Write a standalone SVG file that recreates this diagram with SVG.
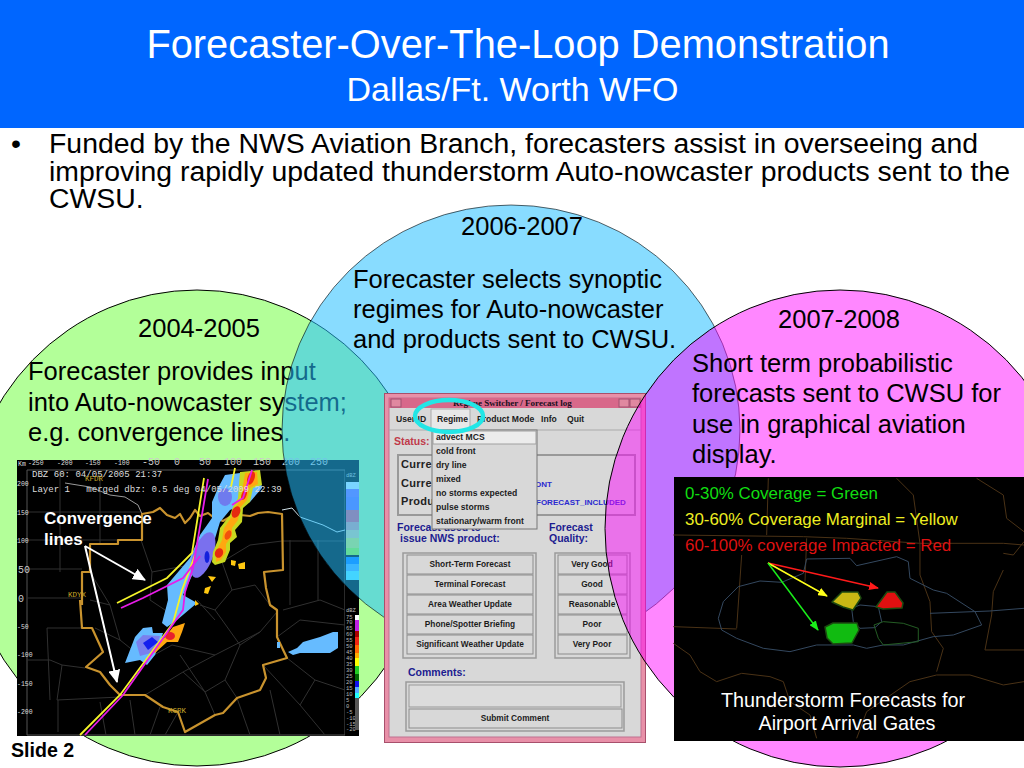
<svg xmlns="http://www.w3.org/2000/svg" width="1024" height="768" viewBox="0 0 1024 768">
<style>
text{font-family:"Liberation Sans",Arial,sans-serif}
.t24{font-size:25.500px;fill:#000}
.bul{font-size:28.400px;fill:#000}
.mono{font-family:"Liberation Mono",monospace;white-space:pre}
.ax{font-size:6.500px;fill:#ddd}
.ax2{font-size:10px;fill:#ccc}
.cty{fill:none;stroke:#303030;stroke-width:1}
.brd{fill:none;stroke:#c9932e;stroke-width:2.200;stroke-linejoin:round}
.yl{fill:none;stroke:#f4f42a;stroke-width:1.800}
.mg{fill:none;stroke:#e81ce8;stroke-width:1.800}
.wt{fill:none;stroke:#fff;stroke-width:2;marker-end:url(#wh)}
.wb{font-size:8.300px;font-weight:bold;fill:#1c1c1c;text-anchor:middle}
.it{font-size:8.600px;font-weight:bold;fill:#1c1c1c}
.bl{font-size:10.500px;font-weight:bold;fill:#1c1c90}
.cu{font-size:11px;font-weight:bold;fill:#222}
.btn{fill:#d8d8d8;stroke:#8c8c8c;stroke-width:1}
.frm{fill:#d8d8d8;stroke:#9a9a9a;stroke-width:1.500}
.st{fill:none;stroke:#4a3216;stroke-width:3}
.gt{fill:none;stroke:#34485f;stroke-width:3}
.gg{fill:none;stroke:#245c24;stroke-width:3}
.lg{font-size:16.900px}
.wh19{font-size:19.800px;fill:#fff;text-anchor:middle}
.blob{stroke:#1c4a10;stroke-width:1.500;stroke-linejoin:round}
</style>
<defs>
<marker id="wh" markerUnits="userSpaceOnUse" markerWidth="14" markerHeight="12" refX="12" refY="6" orient="auto"><path d="M0 0L13 6L0 12Z" fill="#fff"/></marker>
<marker id="rd" markerUnits="userSpaceOnUse" markerWidth="10" markerHeight="8" refX="9" refY="4" orient="auto"><path d="M0 0L10 4L0 8Z" fill="#ff1a1a"/></marker>
<marker id="ye" markerUnits="userSpaceOnUse" markerWidth="10" markerHeight="8" refX="9" refY="4" orient="auto"><path d="M0 0L10 4L0 8Z" fill="#ffff1a"/></marker>
<marker id="gr" markerUnits="userSpaceOnUse" markerWidth="10" markerHeight="8" refX="9" refY="4" orient="auto"><path d="M0 0L10 4L0 8Z" fill="#1aee1a"/></marker>
</defs>
<rect width="1024" height="768" fill="#fff"/>
<g id="header">
<rect width="1024" height="128" fill="#0066ff"/>
<text x="518" y="58" font-size="39.800" fill="#fff" text-anchor="middle">Forecaster-Over-The-Loop Demonstration</text>
<text x="512.500" y="101" font-size="34" fill="#fff" text-anchor="middle">Dallas/Ft. Worth WFO</text>
</g>
<g id="bullets">
<text x="11" y="153" class="bul">•</text>
<text x="49" y="153" class="bul">Funded by the NWS Aviation Branch, forecasters assist in overseeing and</text>
<text x="49" y="181" class="bul">improving rapidly updated thunderstorm Auto-nowcaster products sent to the</text>
<text x="49" y="208" class="bul">CWSU.</text>
</g>
<g id="circle-2004">
<ellipse cx="197" cy="528" rx="232" ry="238" fill="#b3ff99" stroke="#000" stroke-width="1"/>
<text x="199" y="337" class="t24" text-anchor="middle">2004-2005</text>
<text x="28" y="380" class="t24">Forecaster provides input</text>
<text x="28" y="411" class="t24">into Auto-nowcaster system;</text>
<text x="28" y="441" class="t24">e.g. convergence lines.</text>
</g>
<g id="radar">
<rect x="17" y="460" width="342" height="276" fill="#000"/>
<path d="M27 470H345V735H27Z" fill="none" stroke="#555" stroke-width="1"/>
<path class="cty" d="M27 540H141M27 512H141M60 470V572M100 470V544M27 569H82M27 598H82M47 628H85M47 628L50 700M27 660H50L62 665L85 668M57 700L120 697M58 700V732M100 702L106 735M62 665L57 700M90 600L110 605L120 640L145 660L172 645M120 640L95 628M90 572L110 605M141 540L152 572L150 600M152 572L190 565M150 600L168 612M180 655L205 692M145 695L183 672L215 655L260 632L277 612M172 645L215 655M215 610L240 645L260 632M200 605L215 610L232 590L255 585L270 605M232 590L222 562L250 545L282 541M240 645L225 680L237 698M183 672L205 692L225 680M205 692L215 715M130 700L135 735M160 707L150 735M215 620L197 600M282 541H345M290 540V605M283 610L320 600L345 610M318 540V600M287 658L315 680L345 690M315 680L300 705L325 735M277 637L300 620L345 625M263 665L300 705M237 698L250 735M178 712L165 735M270 690L280 735"/>
<path fill="none" stroke="#9a9a9a" stroke-width="1" stroke-linejoin="round" d="M65 483L90 487L110 495L125 497L138 505L142 514"/>
<path fill="none" stroke="#cfe0e8" stroke-width="1" stroke-linejoin="round" d="M282 510L292 508L300 517L323 525L337 532L345 530"/>
<path class="brd" d="M82 605L82 572H90V544H118V540H142V514L153 512L160 508L167 515L175 518L180 514L185 523L190 518L195 510L200 516L208 513L213 517L223 521L230 517L240 515L250 516L258 513L268 512L282 514L283 570L264 572L266 588L270 605L277 610V637L287 658L263 665L266 678L260 690L237 698L223 713L215 715L185 732L178 712L163 707L145 695H120L110 685L100 672L86 667L103 652L92 628H82L80 600"/>
<g id="storms">
<path fill="#66bbff" d="M225 475L240 473L260 478L262 488L250 502L230 510L220 522L213 545L197 565L183 595L197 603L177 620L167 627L162 623L168 600L167 585L190 558L200 535L212 518L212 502L218 488Z"/>
<ellipse cx="225" cy="497" rx="7" ry="9" fill="#6f7bee"/>
<ellipse cx="203" cy="555" rx="10" ry="24" transform="rotate(20 203 555)" fill="#7a70ee"/>
<ellipse cx="207" cy="557" rx="2.500" ry="6" fill="#1420dd"/>
<path fill="#c8d820" d="M240 472L260 470L262 485L253 488L250 502L243 508L242 522L235 530L237 537L230 543L230 550L225 562L215 565L212 562L213 552L218 540L220 528L230 515L233 507L238 498Z"/>
<path fill="#ffa810" d="M245 473L257 472L258 484L250 488L247 500L240 508L238 520L232 528L232 536L226 544L226 552L221 560L216 562L216 552L222 540L224 528L233 515L236 507L241 498Z"/>
<ellipse cx="251" cy="478" rx="3.500" ry="7" fill="#ee2a10" transform="rotate(20 251 478)"/>
<ellipse cx="244" cy="495" rx="2.500" ry="5" fill="#ee2a10" transform="rotate(20 244 495)"/>
<ellipse cx="236" cy="512" rx="4" ry="6" fill="#e62a10" transform="rotate(25 236 512)"/>
<ellipse cx="228" cy="535" rx="3" ry="5" fill="#f2500c" transform="rotate(25 228 535)"/>
<ellipse cx="219" cy="553" rx="4" ry="5" fill="#e62a10" transform="rotate(25 219 553)"/>
<path fill="#ffc810" d="M231 560L236 561L235 566L231 565ZM238 564L245 562L245 569L239 569ZM208 576L216 577L212 582ZM205 588L211 586L208 594L204 593ZM195 600L199 604L195 606Z"/>
<path fill="#66bbff" d="M143 628L152 627L153 633L163 633L160 643L155 655L147 665L140 660L125 663L130 650L135 637Z"/>
<path fill="#7a80ee" d="M136 642L143 635L160 636L155 652L140 656Z"/>
<path fill="#1420ee" d="M143 643L152 637L158 642L148 650Z"/>
<path fill="#ffa810" d="M185 623L173 627L165 637L152 650L155 653L167 642L178 642L182 632Z"/>
<ellipse cx="170" cy="636" rx="5" ry="4" fill="#e8202c"/>
<path fill="#66bbff" d="M288 652L297 648L303 642L320 637L333 632L338 632L338 648L330 653L300 653L293 655Z"/>
<path fill="#66bbff" d="M277 642H280V648H277Z"/>
</g>
<path class="yl" d="M117 603L167 578L192 553L204 478"/>
<path class="yl" d="M80 735L120 695L173 623L182 590L195 555"/>
<path class="yl" d="M235 468L231 487"/>
<path class="mg" d="M85 735L123 695L183 610L185 592L193 568L208 479"/>
<path class="mg" d="M121 608L143 598L183 578L200 556"/>
<path class="mg" d="M232 505L243 498L252 470"/>
<g id="radar-text">
<text x="18" y="466" class="mono ax">Km</text>
<text x="28" y="465" class="mono ax">-250</text><text x="57" y="465" class="mono ax">-200</text><text x="85" y="465" class="mono ax">-150</text><text x="114" y="465" class="mono ax">-100</text>
<text x="142" y="465" class="mono ax2">-50</text><text x="174" y="465" class="mono ax2">0</text><text x="199" y="465" class="mono ax2">50</text><text x="224" y="465" class="mono ax2">100</text><text x="253" y="465" class="mono ax2">150</text><text x="282" y="465" class="mono ax2">200</text><text x="310" y="465" class="mono ax2">250</text>
<text x="17" y="486" class="mono ax">200</text><text x="17" y="515" class="mono ax">150</text><text x="17" y="543" class="mono ax">100</text>
<text x="18" y="573" class="mono ax2">50</text><text x="18" y="602" class="mono ax2">0</text>
<text x="17" y="629" class="mono ax">-50</text><text x="17" y="657" class="mono ax">-100</text><text x="17" y="686" class="mono ax">-150</text><text x="17" y="714" class="mono ax">-200</text>
<text x="32" y="477" class="mono" font-size="9.050" fill="#ddd">DBZ 60: 04/05/2005 21:37</text>
<text x="32" y="492" class="mono" font-size="9.050" fill="#ddd">Layer 1   merged dbz: 0.5 deg 04/05/2009 22:39</text>
<text x="85" y="481" class="mono" font-size="7.500" fill="#c8a82a">KFDR</text>
<text x="68" y="597" class="mono" font-size="7.500" fill="#c8a82a">KDYX</text>
<text x="168" y="713" class="mono" font-size="7.500" fill="#c8a82a">KGRK</text>
</g>
<g id="colorbars">
<rect x="345" y="470" width="14" height="266" fill="#000"/>
<g fill="#bbb" font-size="5.500" class="mono">
<text x="346" y="477" class="mono">dBZ</text><text x="346" y="612" class="mono">dBZ</text>
<text x="346" y="619" class="mono">75</text><text x="346" y="624" class="mono">70</text><text x="346" y="630" class="mono">65</text><text x="346" y="636" class="mono">60</text><text x="346" y="642" class="mono">55</text><text x="346" y="648" class="mono">50</text><text x="346" y="654" class="mono">45</text><text x="346" y="660" class="mono">40</text><text x="346" y="666" class="mono">35</text><text x="346" y="672" class="mono">30</text><text x="346" y="678" class="mono">25</text><text x="346" y="684" class="mono">20</text><text x="346" y="690" class="mono">15</text><text x="346" y="696" class="mono">10</text><text x="346" y="702" class="mono">5</text><text x="346" y="708" class="mono">0</text><text x="346" y="714" class="mono">-5</text><text x="346" y="720" class="mono">-10</text><text x="346" y="726" class="mono">-15</text><text x="346" y="731" class="mono">-20</text>
</g>
<path fill="#fff" d="M355 615h4v5h-4z"/><path fill="#c020e0" d="M355 620h4v11h-4z"/><path fill="#a00" d="M355 631h4v6h-4z"/><path fill="#e21" d="M355 637h4v8h-4z"/><path fill="#f60" d="M355 645h4v8h-4z"/><path fill="#fa0" d="M355 653h4v5h-4z"/><path fill="#ff0" d="M355 658h4v8h-4z"/><path fill="#2c2" d="M355 666h4v8h-4z"/><path fill="#060" d="M355 674h4v7h-4z"/><path fill="#11e" d="M355 681h4v6h-4z"/><path fill="#5af" d="M355 687h4v6h-4z"/><path fill="#2ff" d="M355 693h4v5h-4z"/><path fill="#555" d="M355 698h4v32h-4z"/>
<path fill="#ddeeff" d="M346 482h13v7h-13z"/><path fill="#8866ff" d="M346 489h13v8h-13z"/><path fill="#7766ff" d="M346 497h13v13h-13z"/><path fill="#ee5577" d="M346 510h13v12h-13z"/><path fill="#dd9999" d="M346 522h13v8h-13z"/><path fill="#ddcc99" d="M346 530h13v8h-13z"/><path fill="#ddee55" d="M346 538h13v10h-13z"/><path fill="#aaff22" d="M346 548h13v7h-13z"/><path fill="#1177ff" d="M346 557h13v7h-13z"/><path fill="#55aaff" d="M346 564h13v7h-13z"/><path fill="#66eeff" d="M346 571h13v9h-13z"/>
</g>
<g id="radar-arrows">
<path class="wt" d="M85 546L145 580"/>
<path class="wt" d="M85 546L117 682"/>
</g>
<text x="44" y="524" font-size="17" font-weight="bold" fill="#fff">Convergence</text>
<text x="44" y="545" font-size="17" font-weight="bold" fill="#fff">lines</text>
</g>
<g id="circle-2006">
<ellipse cx="511" cy="430" rx="229" ry="225" fill="#26c0ff" fill-opacity=".55" stroke="#000" stroke-opacity=".6" stroke-width="1"/>
<text x="522" y="235" class="t24" text-anchor="middle">2006-2007</text>
<text x="353" y="288" class="t24">Forecaster selects synoptic</text>
<text x="353" y="318" class="t24">regimes for Auto-nowcaster</text>
<text x="353" y="348" class="t24">and products sent to CWSU.</text>
</g>
<g id="regime-window">
<rect x="384.500" y="393.500" width="261" height="349" fill="#e890a8" stroke="#a8506c"/>
<rect x="389" y="398" width="252" height="339" fill="#d8d8d8" stroke="#c07090"/>
<rect x="389" y="398" width="252" height="10" fill="#d8688a"/>
<rect x="391" y="399" width="10" height="8" fill="#e088a0" stroke="#a05070"/>
<rect x="619" y="399" width="10" height="8" fill="#e088a0" stroke="#a05070"/>
<rect x="630" y="399" width="10" height="8" fill="#e088a0" stroke="#a05070"/>
<text x="453" y="406" font-size="9" font-weight="bold" fill="#201020" style="font-family:'Liberation Serif',serif">Regime Switcher / Forecast log</text>
<path d="M389 430H641" stroke="#aaa"/>
<rect x="431" y="409" width="39" height="21" fill="#e8e8e8" stroke="#aaa"/>
<text x="396" y="422" class="it">User ID</text><text x="437" y="422" class="it">Regime</text><text x="477" y="422" class="it">Product Mode</text><text x="541" y="422" class="it">Info</text><text x="567" y="422" class="it">Quit</text>
<text x="394" y="445" font-size="10.500" font-weight="bold" fill="#c03a4a">Status:</text>
<rect x="398" y="455" width="237" height="60" fill="#d8d8d8" stroke="#999" stroke-width="2"/>
<text x="401" y="468" class="cu" letter-spacing=".3">Curre</text>
<text x="401" y="487" class="cu" letter-spacing=".3">Curre</text>
<text x="401" y="505" class="cu" letter-spacing=".3">Produ</text>
<text x="535" y="487" font-size="8" font-weight="bold" fill="#2a2ad0">ONT</text>
<text x="536" y="505" font-size="8" font-weight="bold" fill="#2a2ad0">FORECAST_INCLUDED</text>
<text x="397" y="531" class="bl">Forecast used to</text>
<text x="400" y="542" class="bl">issue NWS product:</text>
<text x="549" y="531" class="bl">Forecast</text>
<text x="549" y="542" class="bl">Quality:</text>
<rect x="432" y="430" width="105" height="99" fill="#d8d8d8" stroke="#777"/>
<rect x="433" y="431" width="103" height="13" fill="#ececec" stroke="#a0a0a0"/>
<text x="436" y="440" class="it">advect MCS</text><text x="436" y="454" class="it">cold front</text><text x="436" y="468" class="it">dry line</text><text x="436" y="482" class="it">mixed</text><text x="436" y="496" class="it">no storms expected</text><text x="436" y="510" class="it">pulse storms</text><text x="436" y="524" class="it">stationary/warm front</text>
<rect x="403" y="553" width="133" height="105" class="frm"/>
<rect x="555" y="553" width="75" height="105" class="frm"/>
<rect x="407" y="555" width="126" height="19" class="btn"/><rect x="407" y="575" width="126" height="19" class="btn"/><rect x="407" y="595" width="126" height="19" class="btn"/><rect x="407" y="615" width="126" height="19" class="btn"/><rect x="407" y="635" width="126" height="19" class="btn"/>
<rect x="558" y="555" width="69" height="19" class="btn"/><rect x="558" y="575" width="69" height="19" class="btn"/><rect x="558" y="595" width="69" height="19" class="btn"/><rect x="558" y="615" width="69" height="19" class="btn"/><rect x="558" y="635" width="69" height="19" class="btn"/>
<text x="470" y="567" class="wb">Short-Term Forecast</text><text x="470" y="587" class="wb">Terminal Forecast</text><text x="470" y="607" class="wb">Area Weather Update</text><text x="470" y="627" class="wb">Phone/Spotter Briefing</text><text x="470" y="647" class="wb">Significant Weather Update</text>
<text x="592" y="567" class="wb">Very Good</text><text x="592" y="587" class="wb">Good</text><text x="592" y="607" class="wb">Reasonable</text><text x="592" y="627" class="wb">Poor</text><text x="592" y="647" class="wb">Very Poor</text>
<text x="408" y="676" class="bl">Comments:</text>
<rect x="406" y="682" width="218" height="49" class="frm"/>
<rect x="409" y="685" width="212" height="22" fill="#dcdcdc" stroke="#999"/>
<rect x="409" y="709" width="213" height="19" class="btn"/>
<text x="515" y="721" class="wb">Submit Comment</text>
<ellipse cx="449" cy="416" rx="34" ry="16" fill="none" stroke="#22e6e6" stroke-width="4.500"/>
</g>
<g id="circle-2007">
<ellipse cx="840" cy="528.500" rx="235" ry="238.500" fill="#ff00ff" fill-opacity=".47" stroke="#000" stroke-width="1"/>
<text x="839" y="328" class="t24" text-anchor="middle">2007-2008</text>
<text x="692" y="372" class="t24">Short term probabilistic</text>
<text x="692" y="402" class="t24">forecasts sent to CWSU for</text>
<text x="692" y="433" class="t24">use in graphical aviation</text>
<text x="692" y="463" class="t24">display.</text>
</g>
<g id="gate-map">
<rect x="674" y="477" width="350" height="264" fill="#000"/>
<g transform="translate(670 475) scale(.3333)">
<path class="st" d="M295 10L290 180M10 180L400 185L530 190L750 205L1000 205L1062 210M410 190L405 320M215 240L200 460M10 455L200 462M680 10L730 60L750 205L750 300L780 380L785 470L820 520L800 590M1000 285L970 350L965 420L945 525H1062M10 505L60 540L90 590L140 620L215 595L300 605L340 620L360 680L420 720L440 790M560 790L590 710L720 620L800 600L900 600L1000 630L1062 620M920 10L1000 60L1010 130L1062 170M1000 235L1030 240L1062 200"/>
<path class="gt" d="M145 430L160 380L205 335L270 318L335 322L400 295L410 252L540 250L560 272L680 245L715 260L720 310L790 345L830 355L915 410L935 450L850 480L790 485L700 510L640 510L590 520L550 510L440 510L360 530L280 520L200 490L155 465ZM545 400L550 440L570 460L615 458L635 440L625 395L570 390ZM780 415L960 408L1062 400"/>
<path class="gg" d="M612 450L640 440L700 445L745 460L745 500L640 510L625 490Z"/>
</g>
<path class="blob" fill="#c9b814" d="M832 602L842 592L858 592L861 598L853 610L843 607Z"/>
<path class="blob" fill="#e01010" d="M876 607L887 592L895 592L903 603L902 608L883 609Z"/>
<path class="blob" fill="#11bb11" d="M825 627L833 623L857 623L859 630L852 643L833 644L827 638Z"/>
<text x="685" y="499" class="lg" fill="#11dd11">0-30% Coverage = Green</text>
<text x="685" y="525" class="lg" fill="#eeee22">30-60% Coverage Marginal = Yellow</text>
<text x="685" y="551" class="lg" fill="#dd1111">60-100% coverage Impacted = Red</text>
<text x="843" y="707" class="wh19">Thunderstorm Forecasts for</text>
<text x="847" y="730" class="wh19">Airport Arrival Gates</text>
</g>
<g id="connectors">
<path d="M768 563L878 588" fill="none" stroke="#ff1a1a" stroke-width="1.500" marker-end="url(#rd)"/>
<path d="M768 563L827 596" fill="none" stroke="#ffff1a" stroke-width="1.500" marker-end="url(#ye)"/>
<path d="M768 563L818 630" fill="none" stroke="#1aee1a" stroke-width="1.500" marker-end="url(#gr)"/>
</g>
<text id="slide-number" x="11" y="757" font-size="19.600" font-weight="bold" fill="#000">Slide 2</text>
</svg>
